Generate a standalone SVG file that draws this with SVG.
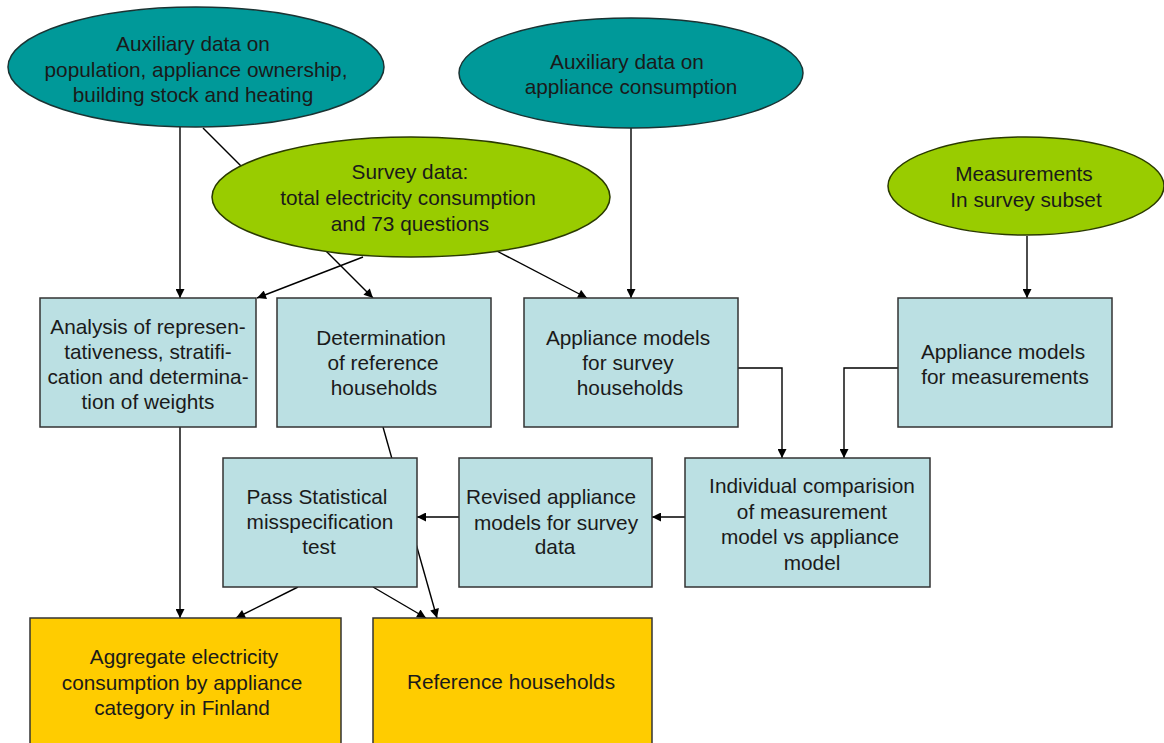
<svg xmlns="http://www.w3.org/2000/svg" width="1164" height="743" viewBox="0 0 1164 743">
<defs>
<marker id="arr" viewBox="0 0 10 10" refX="10" refY="5" markerWidth="11" markerHeight="9" markerUnits="userSpaceOnUse" orient="auto">
<path d="M0,0 L10,5 L0,10 z" fill="#000"/>
</marker>
<style>
.t{font-family:"Liberation Sans",Arial,sans-serif;font-size:20.8px;fill:#1a1a1a;text-anchor:middle}
.teal{fill:#009999;stroke:#1a3333;stroke-width:1.5}
.green{fill:#99cc00;stroke:#2a3a00;stroke-width:1.5}
.box{fill:#bbe0e3;stroke:#333;stroke-width:1.5}
.out{fill:#ffcc00;stroke:#333;stroke-width:1.5}
.c{fill:none;stroke:#000;stroke-width:1.4}
.ca{fill:none;stroke:#000;stroke-width:1.4;marker-end:url(#arr)}
</style>
</defs>
<rect width="1164" height="743" fill="#fff"/>
<g id="connectors">
<line class="ca" x1="180" y1="127" x2="180" y2="298"/>
<line class="ca" x1="203" y1="128" x2="373" y2="298"/>
<line class="ca" x1="363" y1="257" x2="257" y2="298"/>
<line class="ca" x1="493" y1="249" x2="587" y2="298"/>
<line class="ca" x1="631" y1="128" x2="631" y2="298"/>
<line class="ca" x1="1027" y1="236" x2="1027" y2="298"/>
<polyline class="ca" points="738,368 782,368 782,458"/>
<polyline class="ca" points="898,368 844,368 844,458"/>
<line class="ca" x1="685" y1="517" x2="652" y2="517"/>
<line class="ca" x1="459" y1="517" x2="417" y2="517"/>
<line class="ca" x1="383" y1="427" x2="437" y2="618"/>
<line class="ca" x1="180" y1="427" x2="180" y2="618"/>
<line class="ca" x1="298" y1="587" x2="236" y2="618"/>
<line class="ca" x1="373" y1="587" x2="426" y2="618"/>
</g>
<g id="aux-population">
<ellipse class="teal" cx="196" cy="67" rx="188" ry="60"/>
<text class="t" x="193" y="51">Auxiliary data on</text>
<text class="t" x="196" y="77">population, appliance ownership,</text>
<text class="t" x="193" y="102">building stock and heating</text>
</g>
<g id="aux-appliance">
<ellipse class="teal" cx="631" cy="73" rx="172" ry="55"/>
<text class="t" x="627" y="69">Auxiliary data on</text>
<text class="t" x="631" y="94">appliance consumption</text>
</g>
<g id="survey">
<ellipse class="green" cx="411" cy="197" rx="199" ry="60"/>
<text class="t" x="410" y="179">Survey data:</text>
<text class="t" x="408" y="205">total electricity consumption</text>
<text class="t" x="410" y="231">and 73 questions</text>
</g>
<g id="measurements">
<ellipse class="green" cx="1026" cy="186" rx="138" ry="49"/>
<text class="t" x="1024" y="181">Measurements</text>
<text class="t" x="1026" y="207">In survey subset</text>
</g>
<g id="analysis">
<rect class="box" x="40" y="298" width="216" height="129"/>
<text class="t" x="148" y="334">Analysis of represen-</text>
<text class="t" x="148" y="359">tativeness, stratifi-</text>
<text class="t" x="148" y="384">cation and determina-</text>
<text class="t" x="148" y="409">tion of weights</text>
</g>
<g id="determination">
<rect class="box" x="277" y="298" width="214" height="129"/>
<text class="t" x="381" y="345">Determination</text>
<text class="t" x="383" y="370">of reference</text>
<text class="t" x="384" y="395">households</text>
</g>
<g id="models-survey">
<rect class="box" x="524" y="298" width="214" height="129"/>
<text class="t" x="628" y="345">Appliance models</text>
<text class="t" x="628" y="370">for survey</text>
<text class="t" x="630" y="395">households</text>
</g>
<g id="models-measurements">
<rect class="box" x="898" y="298" width="214" height="129"/>
<text class="t" x="1003" y="359">Appliance models</text>
<text class="t" x="1005" y="384">for measurements</text>
</g>
<g id="comparison">
<rect class="box" x="685" y="458" width="245" height="129"/>
<text class="t" x="812" y="493">Individual comparision</text>
<text class="t" x="812" y="519">of measurement</text>
<text class="t" x="810" y="544">model vs appliance</text>
<text class="t" x="812" y="570">model</text>
</g>
<g id="revised">
<rect class="box" x="459" y="458" width="193" height="129"/>
<text class="t" x="551" y="504">Revised appliance</text>
<text class="t" x="556" y="530">models for survey</text>
<text class="t" x="555" y="554">data</text>
</g>
<g id="pass-test">
<rect class="box" x="223" y="458" width="194" height="129"/>
<text class="t" x="317" y="504">Pass Statistical</text>
<text class="t" x="320" y="529">misspecification</text>
<text class="t" x="319" y="554">test</text>
</g>
<g id="aggregate">
<rect class="out" x="30" y="618" width="311" height="140"/>
<text class="t" x="184" y="664">Aggregate electricity</text>
<text class="t" x="182" y="690">consumption by appliance</text>
<text class="t" x="182" y="715">category in Finland</text>
</g>
<g id="reference">
<rect class="out" x="373" y="618" width="279" height="140"/>
<text class="t" x="511" y="689">Reference households</text>
</g>
</svg>
